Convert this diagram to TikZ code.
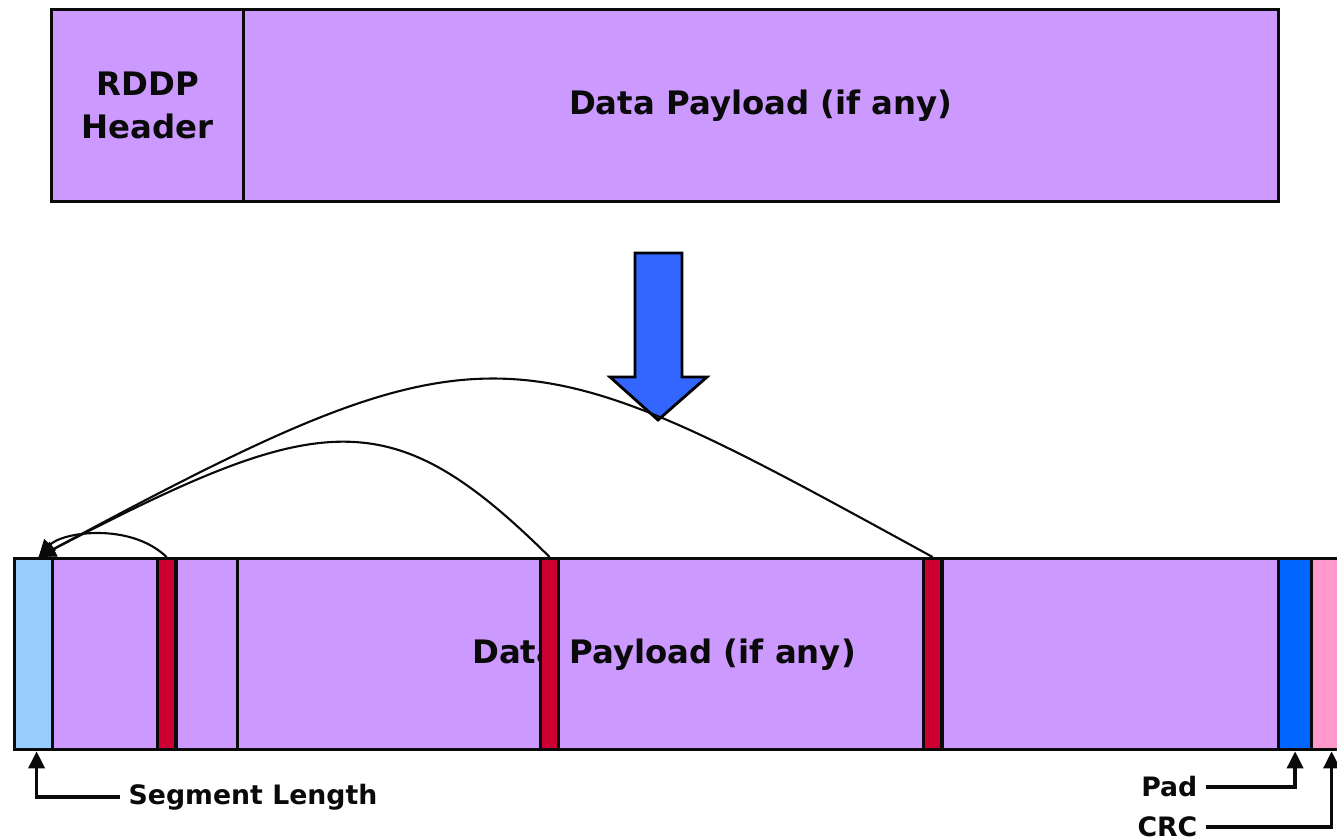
\documentclass[tikz,border=0pt]{standalone}
\usepackage{fontspec}
\setsansfont{DejaVu Sans}
\usetikzlibrary{arrows.meta,positioning}
\definecolor{lilac}{RGB}{204,153,255}
\definecolor{skyblue}{RGB}{153,204,255}
\definecolor{crimson}{RGB}{204,0,51}
\definecolor{padblue}{RGB}{0,102,255}
\definecolor{crcpink}{RGB}{255,153,204}
\definecolor{arrowblue}{RGB}{51,102,255}
\definecolor{ink}{RGB}{10,10,10}
\tikzset{
  >={Triangle[length=1.7mm,width=1.6mm]},
  field/.style={draw=ink,line width=0.9pt,fill=#1,inner sep=0pt,
    minimum height=19.1mm,anchor=north west},
  field/.default=lilac,
  big/.style={font=\sffamily\bfseries\fontsize{9.2}{12.2}\selectfont,text=ink,align=center},
  small/.style={font=\sffamily\bfseries\fontsize{7.6}{9}\selectfont,text=ink,inner sep=0.8mm},
  link/.style={->,line width=0.6pt,draw=ink},
  callout/.style={->,line width=1pt,draw=ink},
}

\begin{document}
\begin{tikzpicture}[x=0.01cm,y=-0.01cm]
  \useasboundingbox (0,0) rectangle (1337,840);
  % upper frame
  \node[field,minimum width=19.2mm,minimum height=19.2mm] (hdr) at (50,8) {};
  \node[big] at (hdr.center) {RDDP\\Header};
  \node[field,minimum width=103.4mm,minimum height=19.2mm] (body) at (242,8) {};
  \node[big] at (body.center) {Data Payload (if any)};
  % segmentation arrow
  \draw[line width=0.8pt,fill=arrowblue] (635,253) -- (682,253) -- (682,377) -- (707,377)
    -- (658,420) -- (610,377) -- (635,377) -- cycle;
  % lower frame
  \foreach \l/\r/\c/\n in {13/51/skyblue/len,51/156/lilac/s1,175/236/lilac/s2,
      236/539/lilac/s3,557/922/lilac/s4,941/1277/lilac/s5,
      1277/1310/padblue/pad,1310/1350/crcpink/crc}
  {
    \pgfmathsetmacro\w{(\r-\l)*0.1}
    \node[field=\c,minimum width=\w mm] (\n) at (\l,557) {};
  }
  \node[big] (lowbody) at (664,655) {Data Payload (if any)};
  \foreach \l/\n in {156/mk1,539/mk2,922/mk3}
    \node[field=crimson,minimum width=1.8mm] (\n) at (\l,557) {};
  % markers point back to the length field
  \draw[link] (mk1.north) .. controls (130,522) and (62,532) .. ([xshift=0.5mm]len.north);
  \draw[link] (mk2.north) .. controls (390,399) and (321,410) .. ([xshift=0.5mm]len.north);
  \draw[link] (mk3.north) .. controls (516,329) and (494,312) .. ([xshift=0.5mm]len.north);
  % callouts
  \node[small,anchor=west] (seglbl) at (120,797) {Segment Length};
  \node[small,anchor=east] (padlbl) at (1206,787) {Pad};
  \node[small,anchor=east] (crclbl) at (1206,827) {CRC};
  \draw[callout] (seglbl.west) -| ([xshift=0.3mm]len.south);
  \draw[callout] (padlbl.east) -| (pad.south);
  \draw[callout] (crclbl.east) -| (crc.south);
\end{tikzpicture}
\end{document}
